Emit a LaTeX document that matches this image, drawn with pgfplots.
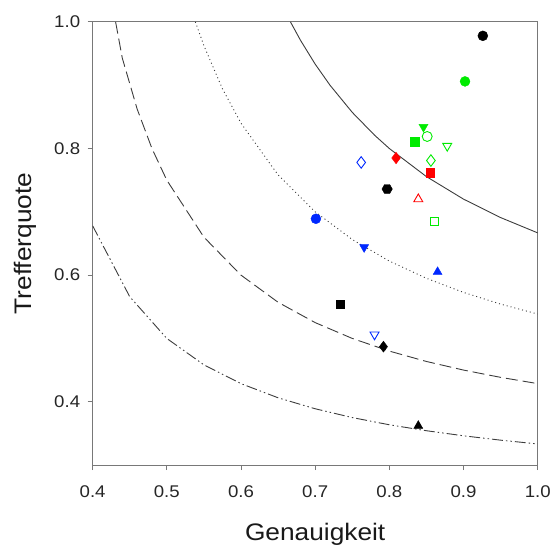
\documentclass[border=0pt]{standalone}
\usepackage{pgfplots}
\pgfplotsset{compat=1.18}
\usepackage{fontspec}
\setmainfont{Liberation Sans}
\newfontfamily\widefont[FakeStretch=1.1]{Liberation Sans}
\definecolor{mgreen}{RGB}{0,235,0}
\definecolor{mblue}{RGB}{0,40,255}
\definecolor{mred}{RGB}{255,0,0}
\definecolor{curve}{RGB}{60,60,60}
\definecolor{axgray}{RGB}{120,120,120}
\pgfdeclareplotmark{hexagon*}{%
  \pgfpathmoveto{\pgfqpointpolar{0}{\pgfplotmarksize}}%
  \pgfpathlineto{\pgfqpointpolar{60}{\pgfplotmarksize}}%
  \pgfpathlineto{\pgfqpointpolar{120}{\pgfplotmarksize}}%
  \pgfpathlineto{\pgfqpointpolar{180}{\pgfplotmarksize}}%
  \pgfpathlineto{\pgfqpointpolar{240}{\pgfplotmarksize}}%
  \pgfpathlineto{\pgfqpointpolar{300}{\pgfplotmarksize}}%
  \pgfpathclose\pgfusepathqfillstroke}
\begin{document}
\begin{tikzpicture}
\begin{axis}[
  scale only axis, width=447pt, height=445pt,
  xmin=0.4, xmax=1.0, ymin=0.3, ymax=1.0,
  xtick={0.4,0.5,...,1.0}, ytick={0.4,0.6,0.8,1.0},
  /pgf/number format/fixed,
  /pgf/number format/fixed zerofill,
  /pgf/number format/precision=1,
  /pgf/number format/assume math mode=true,
  tick label style={font=\widefont\fontsize{17}{19}\selectfont, text=black!85},
  xticklabel style={yshift=-12pt},
  yticklabel style={xshift=-4pt},
  every axis x label/.style={at={(axis description cs:0.5,0)}, anchor=base, yshift=-76pt,
     font=\widefont\fontsize{24}{28}\selectfont, text=black!90},
  every axis y label/.style={at={(axis description cs:0,0.5)}, rotate=90, anchor=center, yshift=68pt,
     font=\widefont\fontsize{24}{28}\selectfont, text=black!90},
  xlabel={Genauigkeit}, ylabel={Trefferquote},
  tick align=outside, tick pos=left,
  major tick length=5pt,
  axis line style={axgray, line width=0.9pt},
  every tick/.style={axgray, line width=0.9pt},
  clip=true,
]
% F-measure isolines
\addplot[curve, line width=0.9pt, no marks] coordinates {
 (0.6667,1.0) (0.68,0.9714) (0.70,0.9333) (0.72,0.9) (0.75,0.8571) (0.78,0.8211)
 (0.80,0.8) (0.85,0.7556) (0.90,0.72) (0.95,0.6909) (1.00,0.6667)};
\addplot[curve, line width=0.9pt, no marks, dash pattern=on 1pt off 3pt] coordinates {
 (0.5385,1.0) (0.55,0.9625) (0.575,0.8944) (0.60,0.84) (0.65,0.7583) (0.70,0.7)
 (0.75,0.65625) (0.80,0.6222) (0.85,0.595) (0.90,0.5727) (0.95,0.5542) (1.00,0.5385)};
\addplot[curve, line width=0.9pt, no marks, dash pattern=on 12pt off 5pt] coordinates {
 (0.4310,1.0) (0.44,0.9429) (0.46,0.8625) (0.48,0.8) (0.50,0.75) (0.55,0.66) (0.60,0.6)
 (0.65,0.5571) (0.70,0.525) (0.75,0.5) (0.80,0.48) (0.85,0.4636) (0.90,0.45)
 (0.95,0.4385) (1.00,0.4286)};
\addplot[curve, line width=0.9pt, no marks, dash pattern=on 11pt off 3pt on 1.5pt off 3pt on 1.5pt off 3pt] coordinates {
 (0.40,0.678) (0.45,0.566) (0.50,0.5) (0.55,0.4583) (0.60,0.4286) (0.65,0.40625)
 (0.70,0.3889) (0.75,0.375) (0.80,0.3636) (0.85,0.3542) (0.90,0.3462) (0.95,0.3393) (1.00,0.3333)};
% black filled
\addplot[only marks, mark=*, mark size=5pt, black] coordinates {(0.926,0.978)};
\addplot[only marks, mark=hexagon*, mark size=5.2pt, black] coordinates {(0.797,0.736)};
\addplot[only marks, mark=square*, mark size=4.3pt, black] coordinates {(0.734,0.554)};
\addplot[only marks, mark=diamond*, mark size=5.5pt, black] coordinates {(0.792,0.487)};
\addplot[only marks, mark=triangle*, mark size=5.2pt, black] coordinates {(0.839,0.362)};
% green
\addplot[only marks, mark=*, mark size=5pt, mgreen] coordinates {(0.902,0.906)};
\addplot[only marks, mark=triangle*, mark size=5.2pt, mgreen, mark options={rotate=180}] coordinates {(0.846,0.834)};
\addplot[only marks, mark=o, mark size=5pt, mgreen, mark options={line width=0.9pt}] coordinates {(0.851,0.819)};
\addplot[only marks, mark=square*, mark size=4.8pt, mgreen] coordinates {(0.834,0.811)};
\addplot[only marks, mark=triangle, mark size=5.2pt, mgreen, mark options={rotate=180, line width=0.9pt}] coordinates {(0.878,0.804)};
\addplot[only marks, mark=diamond, mark size=5.8pt, mgreen, mark options={line width=0.9pt}] coordinates {(0.856,0.781)};
\addplot[only marks, mark=square, mark size=4.3pt, mgreen, mark options={line width=0.9pt}] coordinates {(0.861,0.685)};
% red
\addplot[only marks, mark=diamond*, mark size=5.8pt, mred] coordinates {(0.809,0.785)};
\addplot[only marks, mark=square*, mark size=4.3pt, mred] coordinates {(0.855,0.762)};
\addplot[only marks, mark=triangle, mark size=5.2pt, mred, mark options={line width=0.9pt}] coordinates {(0.839,0.720)};
% blue
\addplot[only marks, mark=diamond, mark size=5.8pt, mblue, mark options={line width=0.9pt}] coordinates {(0.762,0.778)};
\addplot[only marks, mark=*, mark size=5pt, mblue] coordinates {(0.701,0.689)};
\addplot[only marks, mark=triangle*, mark size=5.2pt, mblue, mark options={rotate=180}] coordinates {(0.766,0.644)};
\addplot[only marks, mark=triangle*, mark size=5.2pt, mblue] coordinates {(0.865,0.605)};
\addplot[only marks, mark=triangle, mark size=5.2pt, mblue, mark options={rotate=180, line width=0.9pt}] coordinates {(0.780,0.506)};
\end{axis}
\path ([shift={(-93pt,-81pt)}]current axis.south west) rectangle ([shift={(14pt,22pt)}]current axis.north east);
\end{tikzpicture}
\end{document}
